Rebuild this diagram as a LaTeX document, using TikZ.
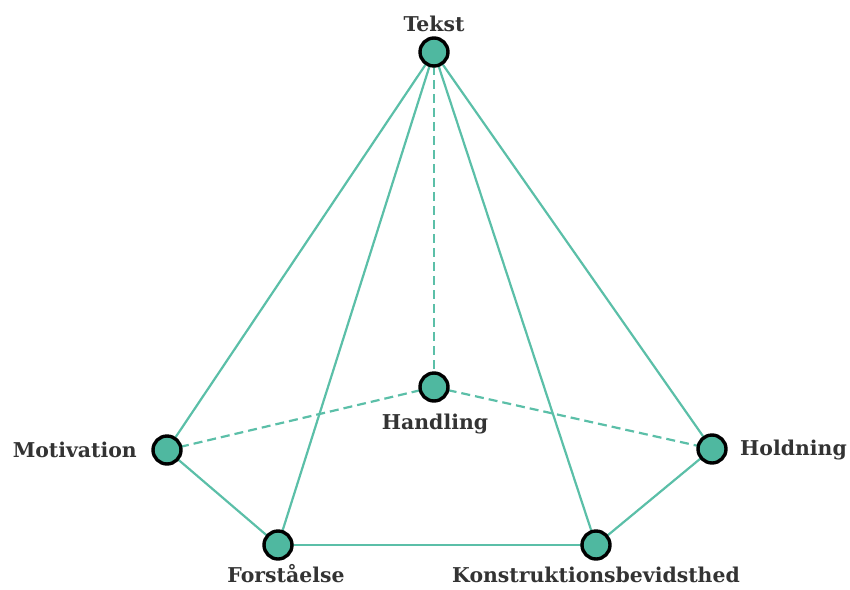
\documentclass[tikz,border=0pt]{standalone}
\usepackage{fontspec}
\setmainfont{DejaVu Serif}
\definecolor{edgegreen}{HTML}{5BBFA8}
\definecolor{dotgreen}{HTML}{4FB8A0}
\definecolor{labelgrey}{HTML}{333333}
\begin{document}
\begin{tikzpicture}[x=1pt,y=-1pt,
  vertex/.style={circle,draw=black,line width=3.4pt,fill=dotgreen,minimum size=28pt,inner sep=0pt},
  solidedge/.style={draw=edgegreen,line width=2.2pt},
  dashededge/.style={draw=edgegreen,line width=2.2pt,dash pattern=on 9pt off 5pt},
  lbl/.style={font=\bfseries\fontsize{20.4}{24}\selectfont,text=labelgrey,inner sep=0pt,anchor=base}]
\useasboundingbox (0,0) rectangle (850,589);
% vertex positions
\coordinate (tekst) at (434,52);
\coordinate (handling) at (434,387);
\coordinate (motivation) at (167,450);
\coordinate (holdning) at (712,449);
\coordinate (forst) at (278,545);
\coordinate (konst) at (596,545);
% edges
\draw[solidedge] (tekst) -- (motivation);
\draw[solidedge] (tekst) -- (forst);
\draw[solidedge] (tekst) -- (konst);
\draw[solidedge] (tekst) -- (holdning);
\draw[solidedge] (motivation) -- (forst);
\draw[solidedge] (forst) -- (konst);
\draw[solidedge] (konst) -- (holdning);
\draw[dashededge] (tekst) -- (handling);
\draw[dashededge] (handling) -- (motivation);
\draw[dashededge] (handling) -- (holdning);
% vertices
\foreach \v in {tekst,handling,motivation,holdning,forst,konst}
  \node[vertex] (n-\v) at (\v) {};
% labels
\node[lbl] (l-tekst) at (434,31) {Tekst};
\node[lbl] (l-handling) at (435,429) {Handling};
\node[lbl,anchor=base east] (l-motivation) at (137,457) {Motivation};
\node[lbl,anchor=base west] (l-holdning) at (740,455) {Holdning};
\node[lbl] (l-forst) at (286,582) {Forståelse};
\node[lbl] (l-konst) at (596,582) {Konstruktionsbevidsthed};
\end{tikzpicture}
\end{document}
